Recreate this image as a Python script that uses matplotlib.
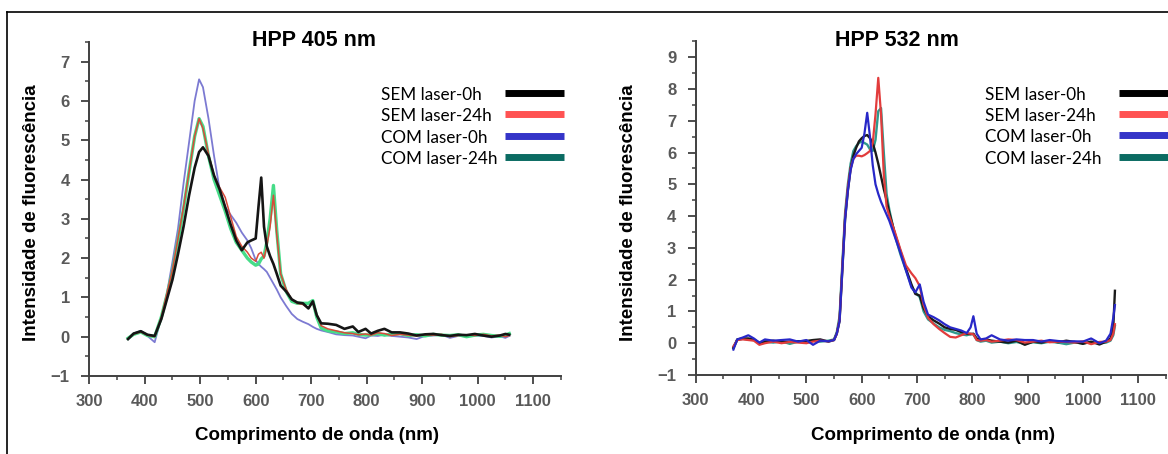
import numpy as np
import matplotlib
matplotlib.use("Agg")
import matplotlib.pyplot as plt
from matplotlib.lines import Line2D
from matplotlib.ticker import MultipleLocator

# ---- dados (HPP 405 nm) ----
wl_405 = [370, 380, 393, 405, 418, 430, 440, 450, 460, 470, 480, 490, 498, 505, 515, 525,
          535, 545, 555, 565, 575, 585, 592, 600, 605, 610, 615, 620, 626, 632, 638, 645,
          655, 665, 675, 685, 695, 703, 710, 718, 730, 745, 760, 775, 785, 798, 808, 820,
          832, 845, 860, 875, 890, 905, 920, 935, 950, 965, 980, 995, 1010, 1025, 1040,
          1050, 1057]
sem0_405 = [-0.06, 0.08, 0.14, 0.05, 0.02, 0.45, 0.95, 1.45, 2.1, 2.8, 3.6, 4.3, 4.7, 4.82,
            4.6, 4.1, 3.75, 3.3, 2.85, 2.45, 2.2, 2.4, 2.45, 2.5, 3.3, 4.05, 2.8, 2.3, 2.05,
            1.85, 1.6, 1.3, 1.15, 0.95, 0.87, 0.85, 0.72, 0.9, 0.55, 0.34, 0.33, 0.3, 0.2,
            0.26, 0.12, 0.2, 0.08, 0.15, 0.2, 0.11, 0.11, 0.08, 0.03, 0.06, 0.07, 0.04, 0.02,
            0.05, 0.04, 0.07, 0.03, 0.0, 0.03, 0.07, 0.05]
sem24_405 = [-0.05, 0.07, 0.12, 0.04, 0.0, 0.5, 1.1, 1.7, 2.5, 3.3, 4.2, 5.1, 5.55, 5.3,
             4.65, 4.1, 3.8, 3.55, 3.05, 2.55, 2.3, 2.15, 2.0, 1.92, 2.1, 2.15, 2.0, 2.3, 2.8,
             3.6, 2.6, 1.6, 1.2, 0.95, 0.85, 0.82, 0.72, 0.88, 0.55, 0.28, 0.2, 0.15, 0.1,
             0.08, 0.05, 0.07, 0.04, 0.1, 0.08, 0.03, 0.06, 0.04, 0.02, 0.05, 0.04, 0.06, 0.0,
             0.03, 0.05, 0.03, 0.06, 0.02, 0.04, 0.0, 0.03]
com0_405 = [-0.06, 0.08, 0.15, 0.02, -0.14, 0.5, 1.1, 1.9, 2.75, 3.9, 4.95, 6.0, 6.55, 6.35,
            5.55, 4.6, 3.75, 3.3, 3.1, 2.9, 2.65, 2.45, 2.25, 1.95, 1.85, 1.78, 1.72, 1.65,
            1.5, 1.35, 1.2, 1.0, 0.78, 0.58, 0.45, 0.38, 0.32, 0.25, 0.2, 0.16, 0.12, 0.06,
            0.04, 0.03, 0.0, -0.04, 0.03, 0.02, 0.05, 0.02, 0.0, -0.02, -0.06, 0.02, 0.03,
            0.05, -0.03, 0.02, 0.01, 0.03, 0.02, -0.02, 0.01, -0.03, 0.02]
com24_405 = [-0.04, 0.06, 0.12, 0.03, 0.0, 0.5, 1.05, 1.65, 2.45, 3.25, 4.2, 5.1, 5.55, 5.35,
             4.6, 4.0, 3.6, 3.2, 2.75, 2.4, 2.2, 2.0, 1.9, 1.82, 1.85, 1.98, 2.05, 2.4, 3.0,
             3.85, 2.7, 1.6, 1.15, 0.9, 0.85, 0.85, 0.85, 0.92, 0.5, 0.22, 0.15, 0.12, 0.08,
             0.1, 0.06, 0.04, 0.05, 0.08, 0.04, 0.06, 0.08, 0.03, 0.05, 0.02, 0.06, 0.04, 0.03,
             0.05, 0.0, 0.04, 0.06, 0.03, 0.01, 0.04, 0.08]

# ---- dados (HPP 532 nm) ----
wl_532 = [368, 375, 385, 395, 405, 415, 425, 440, 455, 470, 485, 500, 512, 525, 540, 550,
          555, 560, 565, 570, 575, 580, 585, 590, 595, 600, 605, 610, 615, 620, 625, 630,
          635, 640, 645, 650, 660, 670, 680, 690, 697, 705, 712, 720, 730, 740, 750, 760,
          770, 780, 790, 797, 802, 808, 815, 825, 835, 850, 865, 880, 895, 910, 925, 940,
          955, 970, 985, 1000, 1015, 1030, 1042, 1050, 1055, 1058]
sem0_532 = [-0.15, 0.12, 0.15, 0.15, 0.12, 0.0, 0.05, 0.08, 0.03, 0.05, 0.06, 0.07, 0.1, 0.12,
            0.05, 0.1, 0.3, 0.7, 2.3, 3.9, 4.8, 5.5, 5.9, 6.15, 6.35, 6.45, 6.52, 6.55, 6.45,
            6.3, 6.0, 5.65, 5.25, 4.85, 4.5, 4.1, 3.45, 2.9, 2.35, 1.85, 1.55, 1.5, 1.1, 0.85,
            0.72, 0.62, 0.5, 0.45, 0.42, 0.35, 0.3, 0.28, 0.3, 0.15, 0.1, 0.12, 0.08, 0.05,
            0.02, 0.08, -0.05, 0.05, 0.02, 0.07, 0.03, 0.08, 0.04, -0.02, 0.05, -0.04, 0.05,
            0.15, 0.5, 1.65]
sem24_532 = [-0.1, 0.1, 0.12, 0.1, 0.08, -0.05, 0.0, 0.05, 0.0, 0.04, 0.02, 0.0, 0.05, 0.08,
             0.06, 0.1, 0.3, 0.75, 2.4, 4.0, 4.9, 5.5, 5.8, 5.9, 5.9, 5.88, 5.92, 5.98, 6.05,
             6.3, 7.2, 8.35, 7.2, 5.3, 4.3, 4.0, 3.5, 2.95, 2.45, 2.2, 2.05, 1.8, 1.2, 0.8,
             0.6, 0.45, 0.32, 0.2, 0.18, 0.25, 0.32, 0.3, 0.28, 0.1, 0.08, 0.1, 0.05, 0.08,
             0.12, 0.1, 0.02, 0.05, 0.08, 0.03, 0.05, 0.04, 0.02, 0.06, -0.03, 0.04, 0.05,
             0.1, 0.3, 0.6]
com0_532 = [-0.2, 0.12, 0.18, 0.25, 0.15, 0.02, 0.12, 0.08, 0.1, 0.12, 0.05, 0.1, -0.05, 0.08,
            0.06, 0.1, 0.3, 0.7, 2.3, 3.9, 4.8, 5.45, 5.8, 5.95, 6.05, 6.15, 6.6, 7.25, 6.5,
            5.6, 5.0, 4.7, 4.45, 4.25, 4.05, 3.85, 3.35, 2.85, 2.3, 1.75, 1.6, 1.85, 1.3, 0.9,
            0.82, 0.72, 0.6, 0.5, 0.45, 0.4, 0.32, 0.5, 0.85, 0.3, 0.12, 0.15, 0.25, 0.12,
            0.08, 0.12, 0.1, 0.1, 0.05, 0.1, 0.07, 0.05, 0.06, 0.05, 0.15, 0.0, 0.08, 0.3,
            0.8, 1.2]
com24_532 = [-0.12, 0.1, 0.14, 0.12, 0.1, 0.02, 0.05, 0.02, 0.06, -0.02, 0.05, 0.03, 0.08,
             0.05, 0.08, 0.12, 0.35, 0.85, 2.5, 4.1, 5.0, 5.65, 6.05, 6.2, 6.3, 6.35, 6.3,
             6.25, 6.1, 6.05, 6.4, 7.3, 7.4, 6.0, 4.7, 4.2, 3.4, 2.8, 2.3, 1.8, 1.6, 1.45, 1.0,
             0.75, 0.62, 0.5, 0.42, 0.38, 0.32, 0.28, 0.25, 0.3, 0.28, 0.1, 0.05, 0.08, 0.02,
             0.05, 0.0, 0.04, -0.02, 0.03, 0.0, 0.05, 0.02, -0.03, 0.02, 0.0, 0.03, 0.0, 0.02,
             0.08, 0.25, 0.55]

labels = ["SEM laser-0h", "SEM laser-24h", "COM laser-0h", "COM laser-24h"]
key_colors = ["#000000", "#ff5252", "#3434c8", "#0b6b62"]

TICK_GRAY = "#595959"
SPINE = "#404040"
W, H = 1168, 454


def style_axes(ax, ymin, ymax):
    """Eixos estilo Excel: só esquerda/baixo, ticks para fora."""
    ax.set_xlim(300, 1150)
    ax.set_ylim(ymin, ymax)
    ax.xaxis.set_minor_locator(MultipleLocator(50))
    ax.yaxis.set_minor_locator(MultipleLocator(0.5))
    ax.set_xticks(np.arange(300, 1101, 100))
    ax.set_yticks(np.arange(ymin, int(ymax) + 1, 1))
    for s in ("top", "right"):
        ax.spines[s].set_visible(False)
    for s in ("left", "bottom"):
        ax.spines[s].set_color(SPINE)
        ax.spines[s].set_linewidth(1.4)
    ax.tick_params(which="major", direction="out", length=6, width=1.3, color=SPINE,
                   labelcolor=TICK_GRAY, labelsize=12)
    ax.tick_params(which="minor", direction="out", length=3, width=1.1, color=SPINE)
    ax.tick_params(axis="y", which="major", pad=8)
    ax.tick_params(axis="x", which="major", pad=7)
    for lab in ax.get_xticklabels() + ax.get_yticklabels():
        lab.set_fontweight("bold")
        lab.set_family("Liberation Sans")
    ax.set_facecolor("none")


def draw_key(ax, tx, sx0, sx1, rows):
    """Legenda manual: texto alinhado à esquerda, barra de cor à direita."""
    for lab, col, yy in zip(labels, key_colors, rows):
        ax.text(tx, yy - 0.006, lab, transform=ax.transAxes, ha="left", va="center",
                fontsize=12.3, family="Lato", color="black")
        ax.add_line(Line2D([sx0, sx1], [yy, yy], transform=ax.transAxes, color=col,
                           lw=5, solid_capstyle="butt", clip_on=False))


fig = plt.figure(figsize=(W / 100, H / 100), dpi=100)
fig.patch.set_facecolor("white")

# ---- painel esquerdo: 405 nm ----
ax1 = fig.add_axes([89.2 / W, 78 / H, 471.7 / W, 334 / H])
style_axes(ax1, -1, 7.5)
ax1.plot(wl_405, com0_405, color="#7c7ad2", lw=1.3)
ax1.plot(wl_405, com24_405, color="#46dc88", lw=2.4)
ax1.plot(wl_405, sem24_405, color="#d84a3a", lw=1.1)
ax1.plot(wl_405, sem0_405, color="#151515", lw=1.9)
draw_key(ax1, 0.6186, 0.8815, 1.0066, [0.8488, 0.7844, 0.7200, 0.6557])

# ---- painel direito: 532 nm ----
ax2 = fig.add_axes([695.8 / W, 79 / H, 470 / W, 333.7 / H])
style_axes(ax2, -1, 9.5)
ax2.plot(wl_532, com24_532, color="#2f9a8e", lw=1.7)
ax2.plot(wl_532, sem0_532, color="#1a1a1a", lw=1.7)
ax2.plot(wl_532, sem24_532, color="#e23c3c", lw=1.6)
ax2.plot(wl_532, com0_532, color="#2828c8", lw=1.6)
draw_key(ax2, 0.615, 0.9004, 1.07, [0.8460, 0.7832, 0.7181, 0.6545])

# ---- títulos e rótulos ----
title_kw = dict(fontsize=15.5, fontweight="bold", family="Liberation Sans", ha="center", va="center")
fig.text(314 / W, 1 - 40 / H, "HPP 405 nm", **title_kw)
fig.text(897 / W, 1 - 40 / H, "HPP 532 nm", **title_kw)

lab_kw = dict(fontsize=13.5, fontweight="bold", family="Liberation Sans", ha="center", va="center")
fig.text(316.7 / W, 1 - 436 / H, "Comprimento de onda (nm)", **lab_kw)
fig.text(932.8 / W, 1 - 435 / H, "Comprimento de onda (nm)", **lab_kw)
fig.text(31.5 / W, 1 - 213 / H, "Intensidade de fluorescência", rotation=90, **lab_kw)
fig.text(628.7 / W, 1 - 212.5 / H, "Intensidade de fluorescência", rotation=90, **lab_kw)

# moldura (linha superior e esquerda)
fig.add_artist(Line2D([7 / W, 1], [1 - 12 / H, 1 - 12 / H], transform=fig.transFigure,
                      color="black", lw=1.2))
fig.add_artist(Line2D([7 / W, 7 / W], [0, 1 - 12 / H], transform=fig.transFigure,
                      color="black", lw=1.2))

fig.savefig("out.png", dpi=100, facecolor="white")
